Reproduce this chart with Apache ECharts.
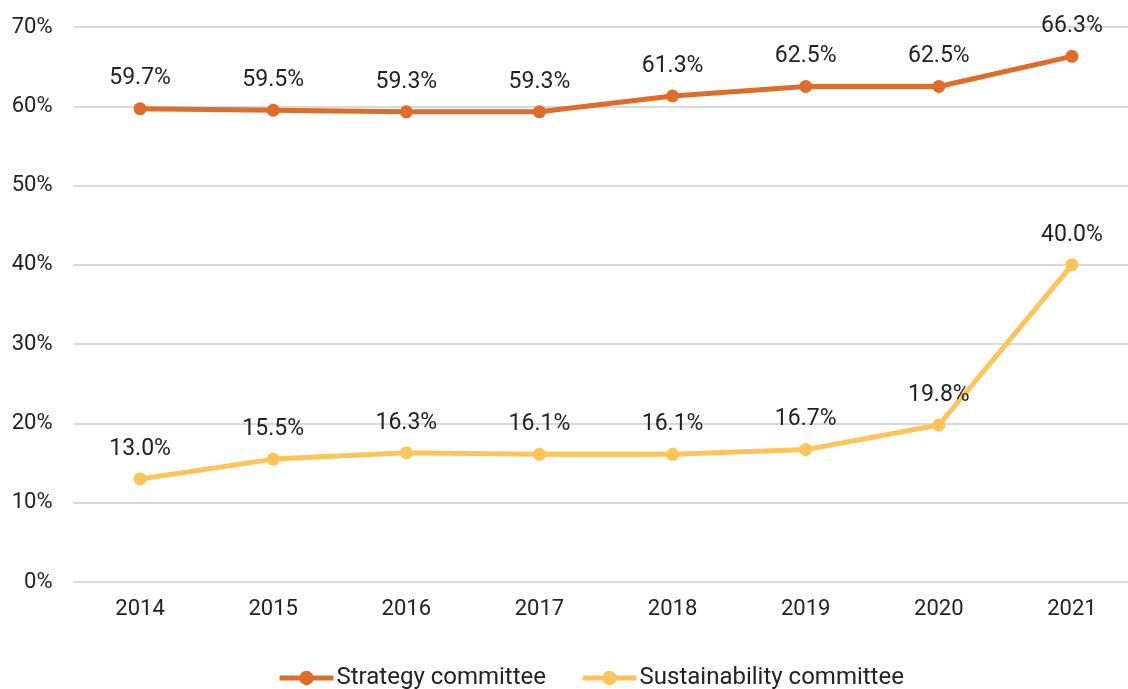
<!DOCTYPE html>
<html><head><meta charset="utf-8">
<script src="https://cdn.jsdelivr.net/npm/echarts@6/dist/echarts.min.js"></script>
<style>html,body{margin:0;padding:0;background:#fff}#c{width:1128px;height:689px}</style>
</head><body><div id="c"></div>
<script>
const categories = ['2014','2015','2016','2017','2018','2019','2020','2021'];
const strategy = [59.7, 59.5, 59.3, 59.3, 61.3, 62.5, 62.5, 66.3];
const sustainability = [13.0, 15.5, 16.3, 16.1, 16.1, 16.7, 19.8, 40.0];
const seriesNames = ['Strategy committee', 'Sustainability committee'];
const yTicks = [0,10,20,30,40,50,60,70];

const font = '"Roboto", sans-serif';
const chart = echarts.init(document.getElementById('c'));
function mk(name, data, color){
  return {
    name, type:'line', data,
    symbol:'circle', symbolSize:13,
    lineStyle:{width:5,color},
    itemStyle:{color},
    label:{show:true, position:'top', distance:12, color:'#222', fontSize:23, fontFamily:font,
      formatter:p=>p.value.toFixed(1)+'%'}
  };
}
chart.setOption({
  animation:false,
  textStyle:{fontFamily:font},
  grid:{left:73.5, right:-10.5, top:27, bottom:107, containLabel:false, outerBoundsMode:'none'},
  xAxis:{type:'category', data:categories, boundaryGap:true,
    axisLine:{show:false}, axisTick:{show:false},
    axisLabel:{color:'#222', fontSize:22, fontFamily:font, margin:16}},
  yAxis:{type:'value', min:yTicks[0], max:yTicks[yTicks.length-1], interval:10,
    axisLine:{show:false}, axisTick:{show:false},
    splitLine:{lineStyle:{color:'#d9d9d9', width:2}},
    axisLabel:{color:'#222', fontSize:22, fontFamily:font, margin:21, formatter:v=>v+'%'}},
  legend:{bottom:-6, left:272, itemWidth:54, itemHeight:18, itemGap:34,
    lineStyle:{width:5},
    textStyle:{color:'#222', fontSize:24, fontFamily:font, padding:[0,0,0,-2]},
    data:seriesNames},
  series:[mk(seriesNames[0], strategy, '#E06C2A'), mk(seriesNames[1], sustainability, '#FFC457')]
});
</script></body></html>
